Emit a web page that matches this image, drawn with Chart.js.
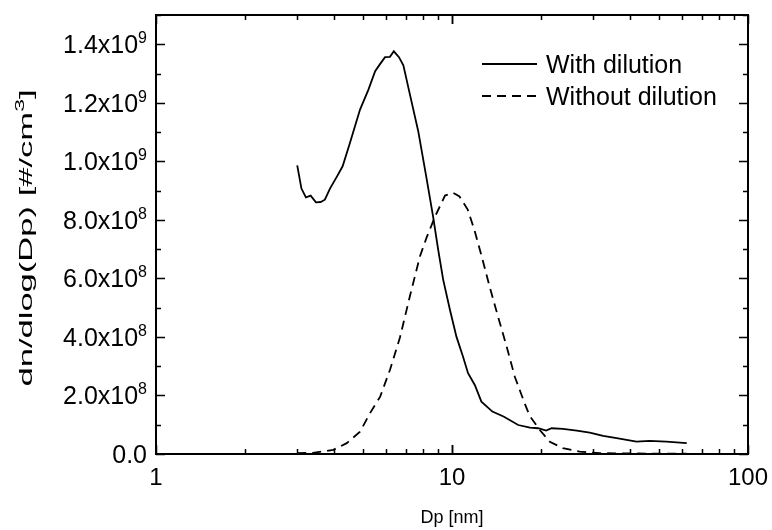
<!DOCTYPE html>
<html>
<head>
<meta charset="utf-8">
<script src="https://cdn.jsdelivr.net/npm/chart.js@4.4.1/dist/chart.umd.min.js"></script>
<style>
  body { margin: 0; background: #fff; }
</style>
</head>
<body>
<canvas id="myChart" width="772" height="530"></canvas>
<script>
// particle diameter (nm) and dn/dlog(Dp)
const dpWith = [3.0, 3.10, 3.21, 3.33, 3.47, 3.60, 3.72, 3.87, 4.08, 4.27, 4.52, 4.89, 5.22, 5.50, 5.72, 5.94, 6.17, 6.36, 6.62, 6.85, 7.21, 7.69, 8.21, 8.63, 8.98, 9.34, 9.84, 10.35, 10.89, 11.33, 11.94, 12.57, 13.69, 14.93, 16.74, 18.34, 19.55, 20.8, 21.7, 23.7, 26.4, 29.2, 32.4, 36.0, 42.0, 46.5, 53.0, 62.1];
const nWith = [0.986e9, 0.907e9, 0.877e9, 0.883e9, 0.860e9, 0.861e9, 0.869e9, 0.907e9, 0.947e9, 0.983e9, 1.063e9, 1.177e9, 1.245e9, 1.308e9, 1.333e9, 1.356e9, 1.357e9, 1.376e9, 1.356e9, 1.328e9, 1.228e9, 1.103e9, 0.94e9, 0.812e9, 0.698e9, 0.595e9, 0.493e9, 0.401e9, 0.333e9, 0.276e9, 0.236e9, 0.179e9, 0.145e9, 0.128e9, 0.099e9, 0.090e9, 0.088e9, 0.080e9, 0.088e9, 0.086e9, 0.080e9, 0.073e9, 0.062e9, 0.054e9, 0.042e9, 0.045e9, 0.042e9, 0.037e9];

const dpWithout = [3.0, 3.39, 3.97, 4.41, 4.89, 5.28, 5.72, 6.17, 6.67, 7.21, 7.79, 8.21, 8.77, 9.47, 10.1, 10.6, 11.3, 11.9, 12.6, 13.4, 14.3, 15.3, 16.3, 17.6, 18.3, 19.8, 21.4, 23.7, 27.0, 31.6, 40, 50, 62];
const nWithout = [0.003e9, 0.004e9, 0.014e9, 0.037e9, 0.076e9, 0.139e9, 0.196e9, 0.287e9, 0.398e9, 0.54e9, 0.675e9, 0.74e9, 0.812e9, 0.883e9, 0.892e9, 0.880e9, 0.835e9, 0.766e9, 0.675e9, 0.572e9, 0.470e9, 0.367e9, 0.264e9, 0.173e9, 0.13e9, 0.082e9, 0.042e9, 0.020e9, 0.008e9, 0.003e9, 0.002e9, 0.001e9, 0.001e9];

const seriesNames = ['With dilution', 'Without dilution'];

// tick labels
const xTickValues = [1, 10, 100];
const xTickLabels = ['1', '10', '100'];
const yTickValues = [0, 2e8, 4e8, 6e8, 8e8, 1e9, 1.2e9, 1.4e9];
const yTickMantissa = ['0.0', '2.0x10', '4.0x10', '6.0x10', '8.0x10', '1.0x10', '1.2x10', '1.4x10'];
const yTickExp = ['', '8', '8', '8', '8', '9', '9', '9'];

const FONT = '"Liberation Sans", Arial, sans-serif';

// frame, inward ticks, labels and legend drawn on top of the chart
const framePlugin = {
  id: 'frame',
  afterDraw(chart) {
    const ctx = chart.ctx;
    const a = chart.chartArea;
    const xs = chart.scales.x;
    const ys = chart.scales.y;
    ctx.save();
    ctx.strokeStyle = '#000';
    ctx.fillStyle = '#000';
    ctx.lineWidth = 2;
    ctx.strokeRect(a.left, a.top, a.right - a.left, a.bottom - a.top);

    // x ticks, bottom and top
    ctx.lineWidth = 1.5;
    for (let d = 1; d < 100; d *= 10) {
      for (let m = 1; m <= 10; m++) {
        const v = d * m;
        const px = Math.round(xs.getPixelForValue(v)) + 0.5;
        const len = (m === 1 || m === 10) ? 9 : 5;
        ctx.beginPath();
        ctx.moveTo(px, a.bottom); ctx.lineTo(px, a.bottom - len);
        ctx.moveTo(px, a.top); ctx.lineTo(px, a.top + len);
        ctx.stroke();
      }
    }
    // y ticks, left and right
    for (let i = 0; i <= 15; i++) {
      const py = Math.round(ys.getPixelForValue(i * 1e8)) + 0.5;
      const len = i % 2 === 0 ? 9 : 5;
      ctx.beginPath();
      ctx.moveTo(a.left, py); ctx.lineTo(a.left + len, py);
      ctx.moveTo(a.right, py); ctx.lineTo(a.right - len, py);
      ctx.stroke();
    }

    // x tick labels
    ctx.font = '24px ' + FONT;
    ctx.textAlign = 'center';
    ctx.textBaseline = 'alphabetic';
    xTickValues.forEach((v, i) => {
      ctx.fillText(xTickLabels[i], xs.getPixelForValue(v), a.bottom + 31);
    });

    // y tick labels with superscript exponent
    const rightEdge = a.left - 9;
    yTickValues.forEach((v, i) => {
      const py = ys.getPixelForValue(v);
      ctx.font = '16px ' + FONT;
      const ew = yTickExp[i] ? ctx.measureText(yTickExp[i]).width : 0;
      ctx.textAlign = 'left';
      ctx.textBaseline = 'alphabetic';
      if (yTickExp[i]) ctx.fillText(yTickExp[i], rightEdge - ew, py - 1);
      ctx.font = '25px ' + FONT;
      ctx.textAlign = 'right';
      ctx.fillText(yTickMantissa[i], rightEdge - ew, py + 9);
    });

    // axis titles
    ctx.font = '18px ' + FONT;
    ctx.textAlign = 'center';
    ctx.fillText('Dp [nm]', (a.left + a.right) / 2, 523);

    // y title: stretched along its length as in the original figure
    ctx.save();
    ctx.translate(32, 238);
    ctx.rotate(-Math.PI / 2);
    ctx.scale(1.92, 1);
    ctx.textAlign = 'left';
    const t1 = 'dn/dlog(Dp) [#/cm';
    ctx.font = '18px ' + FONT;
    const w1 = ctx.measureText(t1).width;
    ctx.font = '12px ' + FONT;
    const w2 = ctx.measureText('3').width;
    ctx.font = '18px ' + FONT;
    const w3 = ctx.measureText(']').width;
    const x0 = -(w1 + w2 + w3) / 2;
    ctx.fillText(t1, x0, 0);
    ctx.font = '12px ' + FONT;
    ctx.fillText('3', x0 + w1, -8);
    ctx.font = '18px ' + FONT;
    ctx.fillText(']', x0 + w1 + w2, 0);
    ctx.restore();

    // legend
    ctx.lineWidth = 1.8;
    ctx.beginPath();
    ctx.moveTo(482, 64); ctx.lineTo(537, 64);
    ctx.stroke();
    ctx.setLineDash([9, 6]);
    ctx.beginPath();
    ctx.moveTo(482, 96); ctx.lineTo(537, 96);
    ctx.stroke();
    ctx.setLineDash([]);
    ctx.font = '25px ' + FONT;
    ctx.textAlign = 'left';
    ctx.fillText(seriesNames[0], 546, 73);
    ctx.fillText(seriesNames[1], 546, 105);
    ctx.restore();
  }
};

const ctx = document.getElementById('myChart').getContext('2d');
new Chart(ctx, {
  type: 'line',
  data: {
    datasets: [
      {
        label: seriesNames[0],
        data: dpWith.map((d, i) => ({ x: d, y: nWith[i] })),
        borderColor: '#000',
        borderWidth: 1.8,
        pointRadius: 0,
        tension: 0,
        fill: false
      },
      {
        label: seriesNames[1],
        data: dpWithout.map((d, i) => ({ x: d, y: nWithout[i] })),
        borderColor: '#000',
        borderWidth: 1.8,
        borderDash: [9, 6],
        pointRadius: 0,
        tension: 0,
        fill: false
      }
    ]
  },
  options: {
    responsive: false,
    animation: false,
    layout: { padding: { left: 156, right: 24, top: 15, bottom: 76 } },
    plugins: { legend: { display: false }, tooltip: { enabled: false } },
    scales: {
      x: { type: 'logarithmic', min: 1, max: 100, display: false },
      y: { type: 'linear', min: 0, max: 1.5e9, display: false }
    }
  },
  plugins: [framePlugin]
});
</script>
</body>
</html>
